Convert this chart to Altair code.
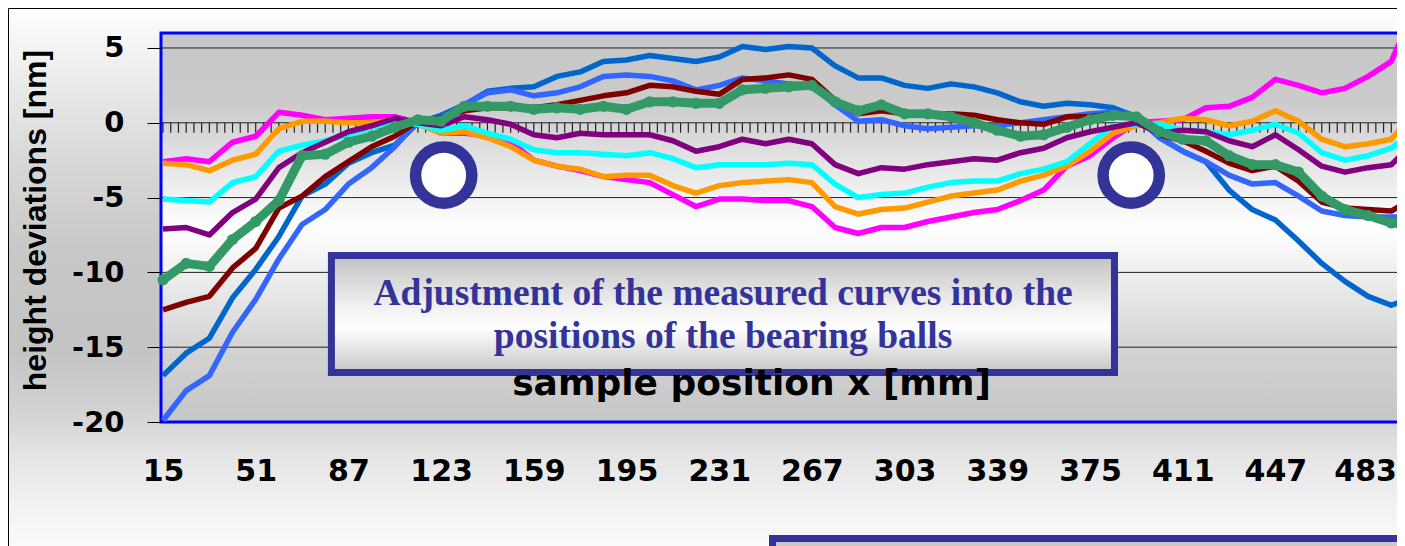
import altair as alt
import pandas as pd

# ---------------- data ----------------
x_mm = [15, 24, 33, 42, 51, 60, 69, 78, 87, 96, 105, 114, 123, 132, 141, 150, 159, 168,
        177, 186, 195, 204, 213, 222, 231, 240, 249, 258, 267, 276, 285, 294, 303, 312,
        321, 330, 339, 348, 357, 366, 375, 384, 393, 402, 411, 420, 429, 438, 447, 456,
        465, 474, 483, 492, 495]

magenta = [-2.6, -2.4, -2.6, -1.3, -0.9, 0.7, 0.5, 0.2, 0.3, 0.4, 0.4, 0.0, -0.7, -0.7,
           -0.85, -1.3, -2.5, -2.9, -3.2, -3.6, -3.8, -4.0, -4.8, -5.6, -5.1, -5.1, -5.2,
           -5.2, -5.6, -7.0, -7.4, -7.0, -7.0, -6.6, -6.3, -6.0, -5.8, -5.2, -4.5, -2.9,
           -2.2, -1.0, 0.0, 0.1, 0.2, 1.0, 1.1, 1.7, 2.9, 2.5, 2.0, 2.3, 3.1, 4.1, 5.3]
orange = [-2.7, -2.8, -3.2, -2.5, -2.1, -0.4, 0.1, 0.1, 0.0, 0.0, 0.2, -0.1, -0.7, -0.6,
          -1.0, -1.6, -2.5, -2.9, -3.1, -3.6, -3.5, -3.5, -4.2, -4.7, -4.2, -4.0, -3.9,
          -3.8, -4.0, -5.6, -6.1, -5.8, -5.7, -5.3, -4.9, -4.7, -4.5, -3.9, -3.5, -2.9,
          -1.9, -0.7, -0.2, 0.0, 0.3, 0.2, -0.2, 0.1, 0.8, 0.1, -1.1, -1.6, -1.4, -1.1, -0.5]
cyan = [-5.1, -5.2, -5.3, -4.0, -3.6, -1.9, -1.5, -1.2, -0.8, -0.3, 0.1, -0.1, -0.5, -0.2,
        -0.7, -1.1, -1.8, -2.0, -2.0, -2.1, -2.2, -2.0, -2.4, -3.0, -2.8, -2.8, -2.8, -2.7,
        -2.8, -4.1, -5.0, -4.8, -4.7, -4.3, -4.0, -3.9, -3.9, -3.4, -3.1, -2.6, -1.4, -0.2,
        -0.1, -0.1, -0.5, -0.6, -0.8, -0.5, -0.1, -0.7, -2.0, -2.5, -2.2, -1.7, -1.3]
purple = [-7.1, -7.0, -7.5, -6.0, -5.1, -3.0, -2.0, -1.3, -0.6, -0.2, 0.3, 0.0, -0.2, 0.4,
          0.2, -0.1, -0.8, -1.0, -0.7, -0.8, -0.8, -0.8, -1.2, -1.9, -1.6, -1.1, -1.4, -1.1,
          -1.4, -2.8, -3.4, -3.0, -3.1, -2.8, -2.6, -2.4, -2.5, -2.0, -1.7, -1.0, -0.6, -0.3,
          0.0, -0.7, -0.5, -0.6, -1.2, -1.6, -0.8, -1.8, -2.9, -3.3, -3.0, -2.8, -2.3]
green = [-10.5, -9.4, -9.6, -7.8, -6.6, -5.2, -2.2, -2.1, -1.3, -0.9, -0.3, 0.2, 0.1, 1.1,
         1.1, 1.1, 0.9, 1.0, 0.9, 1.1, 0.9, 1.4, 1.4, 1.3, 1.3, 2.2, 2.3, 2.4, 2.5, 1.4,
         0.8, 1.2, 0.6, 0.6, 0.4, 0.0, -0.5, -0.9, -0.8, -0.3, 0.2, 0.5, 0.4, -0.6, -1.1,
         -1.2, -2.2, -2.8, -2.8, -3.3, -4.9, -5.8, -6.2, -6.7, -6.7]
darkred = [-12.5, -12.0, -11.6, -9.7, -8.4, -5.7, -4.9, -3.6, -2.6, -1.6, -0.9, 0.1, 0.3,
           0.8, 1.0, 1.0, 1.0, 1.2, 1.5, 1.8, 2.0, 2.5, 2.4, 2.1, 1.9, 2.9, 3.0, 3.2, 2.9,
           1.5, 0.6, 0.8, 0.6, 0.5, 0.6, 0.5, 0.2, 0.0, -0.1, 0.4, 0.4, 0.6, 0.5, -0.8,
           -1.2, -1.9, -2.7, -3.2, -2.9, -3.9, -5.3, -5.7, -5.8, -5.9, -5.6]
blue = [-16.9, -15.4, -14.4, -11.7, -9.8, -7.6, -4.9, -4.1, -2.7, -2.0, -1.5, 0.0, 0.5,
        1.2, 2.1, 2.3, 2.4, 3.1, 3.4, 4.1, 4.2, 4.5, 4.3, 4.1, 4.4, 5.1, 4.9, 5.1, 5.0,
        3.8, 3.0, 3.0, 2.5, 2.3, 2.6, 2.4, 2.0, 1.4, 1.1, 1.3, 1.2, 1.0, 0.4, -1.0, -1.9,
        -2.6, -4.5, -5.8, -6.5, -7.9, -9.4, -10.6, -11.6, -12.2, -12.0]
lightblue = [-19.9, -17.9, -16.9, -14.0, -11.8, -9.1, -6.8, -5.8, -4.1, -3.0, -1.6, 0.1,
             0.3, 1.2, 2.0, 2.2, 1.8, 2.0, 2.4, 3.1, 3.2, 3.1, 2.8, 2.2, 2.5, 3.0, 2.8,
             2.6, 2.5, 1.2, 0.1, 0.2, -0.2, -0.4, -0.3, -0.2, -0.2, 0.0, 0.2, 0.4, 0.6,
             0.7, 0.5, -1.0, -1.9, -2.6, -3.5, -4.1, -4.0, -4.9, -5.9, -6.2, -6.3, -6.3, -6.3]

x_tick_labels = [15, 51, 87, 123, 159, 195, 231, 267, 303, 339, 375, 411, 447, 483]
y_tick_values = [-20, -15, -10, -5, 0, 5]
grid_values = [5, 0, -5, -10, -15]
category_ticks = list(range(15, 496, 3))
ball_x = [124, 391]
ball_y = [-3.5, -3.5]
note_lines = ["Adjustment of the measured curves into the", "positions of the bearing balls"]

# ---------------- layout ----------------
W, H = 1236, 389
PAD = {"left": 153, "top": 25, "right": 0, "bottom": 124}
xs = alt.Scale(domain=[14.22, 494.22], nice=False, zero=False)
ys = alt.Scale(domain=[-20, 6], nice=False, zero=False)

x_axis = alt.Axis(values=x_tick_labels, grid=False, domain=False, ticks=False, tickSize=0,
                  labelFont="DejaVu Sans", labelFontWeight="bold", labelFontSize=30,
                  labelOffset={"condition": {"test": "datum.value == 483", "value": -3},
                               "value": 0},
                  labelColor="black", labelPadding=58, labelBaseline="alphabetic",
                  labelFlush=False, labelOverlap=False, labelExpr="'' + datum.value",
                  titleFont="DejaVu Sans", titleFontWeight="bold", titleFontSize=36,
                  titleColor="black", titleX=590, titleY=-28, titleBaseline="alphabetic",
                  titleAlign="center", zindex=1)
y_axis = alt.Axis(values=y_tick_values, grid=False, domain=False, ticks=True, tickSize=14,
                  tickColor="black", tickWidth=1, labelFont="DejaVu Sans",
                  labelFontWeight="bold", labelFontSize=29, labelColor="black",
                  labelPadding=23, labelFlush=False, labelOverlap=False,
                  labelExpr="'' + datum.value",
                  titleFont="Liberation Sans", titleFontWeight="bold", titleFontSize=32,
                  titleColor="black", titleX=-116, titleY=187, titleAngle=270,
                  titleBaseline="alphabetic", titleAlign="center", zindex=1)

XT = "sample position x [mm]"
YT = "height deviations [nm]"


def X(f):
    return alt.X(f, type="quantitative", scale=xs, axis=x_axis, title=XT)


def Y(f):
    return alt.Y(f, type="quantitative", scale=ys, axis=y_axis, title=YT)


def grad(stops):
    return {"gradient": "linear", "x1": 0, "y1": 0, "x2": 0, "y2": 1,
            "stops": [{"offset": o, "color": c} for o, c in stops]}


one = pd.DataFrame({"a": [0]})

page_bg = alt.Chart(one).mark_rect(
    fill=grad([(0, "#fefefe"), (0.115, "#eeeeee"), (0.264, "#dadada"), (0.45, "#c8c8c8"),
               (0.636, "#c4c4c4"), (0.747, "#d2d2d2"), (0.84, "#e6e6e6"), (1, "#fbfbfb")]),
    strokeWidth=0).encode(x=alt.value(-PAD["left"]), x2=alt.value(W + 20),
                          y=alt.value(-PAD["top"]), y2=alt.value(H + PAD["bottom"]))

frame = alt.Chart(one).mark_rect(fillOpacity=0, stroke="black", strokeWidth=1).encode(
    x=alt.value(-PAD["left"] + 0.5), x2=alt.value(W + 200),
    y=alt.value(-PAD["top"] + 0.5), y2=alt.value(H + 300))

plot_bg = alt.Chart(one).mark_rect(
    fill=grad([(0, "#c6c6c6"), (0.18, "#cbcbcb"), (0.5, "#ffffff"), (0.82, "#d2d2d2"),
               (1, "#c6c6c6")]), strokeWidth=0).encode(
    x=alt.value(0), x2=alt.value(W), y=alt.value(0), y2=alt.value(H))

grid = alt.Chart(pd.DataFrame({"v": grid_values})).mark_rule(
    color="#222222", strokeWidth=1).encode(y=Y("v"))

zero_ticks = alt.Chart(pd.DataFrame({"x": category_ticks, "v": [0] * len(category_ticks)})).mark_tick(
    orient="vertical", size=10, thickness=1.2, color="#222222", yOffset=5, opacity=1).encode(
    x=X("x"), y=Y("v"))

border = alt.Chart(one).mark_rect(fillOpacity=0, stroke="#0000ff", strokeWidth=3).encode(
    x=alt.value(0), x2=alt.value(W + 6), y=alt.value(0), y2=alt.value(H))

series = [("blue", blue, "#0066cc"), ("lightblue", lightblue, "#3366ff"),
          ("darkred", darkred, "#800000"), ("magenta", magenta, "#ff00ff"),
          ("orange", orange, "#ff9900"), ("cyan", cyan, "#00ffff"),
          ("purple", purple, "#800080")]

line_layers = []
for name, vals, col in series:
    df = pd.DataFrame({"x": x_mm, "v": vals, "s": name})
    line_layers.append(alt.Chart(df).mark_line(color=col, strokeWidth=5.5,
                                               strokeJoin="round").encode(x=X("x"), y=Y("v")))

gdf = pd.DataFrame({"x": x_mm, "v": green, "s": "green"})
green_line = alt.Chart(gdf).mark_line(color="#339966", strokeWidth=9,
                                      strokeJoin="round").encode(x=X("x"), y=Y("v"))
green_pts = alt.Chart(gdf).mark_circle(color="#339966", size=125, opacity=1).encode(
    x=X("x"), y=Y("v"))

balls = alt.Chart(pd.DataFrame({"x": ball_x, "v": ball_y})).mark_point(
    shape="circle", filled=True, fill="white", stroke="#333399", strokeWidth=11.5,
    size=3167, opacity=1).encode(x=X("x"), y=Y("v"))

box_df = pd.DataFrame({"x": [80.4], "x2": [384.5], "v": [-8.87], "v2": [-16.69]})
note_box = alt.Chart(box_df).mark_rect(
    fill=grad([(0, "#c2c2c2"), (0.45, "#f2f2f2"), (0.62, "#ffffff"), (1, "#c6c6c6")]),
    stroke="#333399", strokeWidth=7).encode(x=X("x"), x2="x2", y=Y("v"), y2="v2")

text_df = pd.DataFrame({"x": [232.5, 232.5], "v": [-12.18, -15.06], "t": note_lines})
note_text = alt.Chart(text_df).mark_text(
    font="Liberation Serif", fontWeight="bold", fontSize=37.5, color="#333399",
    align="center", baseline="alphabetic").encode(x=X("x"), y=Y("v"), text="t:N")

box2_df = pd.DataFrame({"x": [251.7], "x2": [620.0], "v": [-27.79], "v2": [-45.0]})
bottom_box = alt.Chart(box2_df).mark_rect(
    fill="#c9c9c9", stroke="#333399", strokeWidth=7).encode(x=X("x"), x2="x2", y=Y("v"), y2="v2")

chart = alt.layer(
    page_bg, frame, plot_bg, grid, zero_ticks, border, *line_layers, green_line, green_pts,
    balls, note_box, note_text, bottom_box
).properties(
    width=W, height=H,
    autosize=alt.AutoSizeParams(type="none"),
    padding=PAD,
    background="white",
).configure_view(strokeWidth=0)

chart.save("out.html", embed_options={"renderer": "svg", "actions": False})
